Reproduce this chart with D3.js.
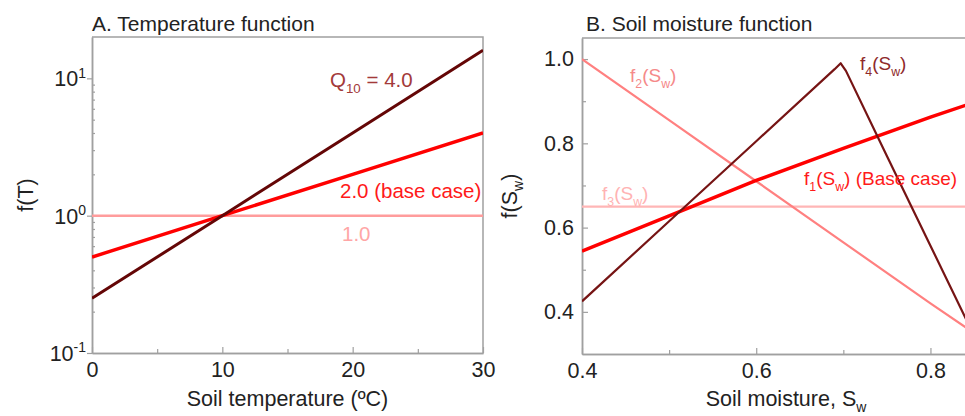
<!DOCTYPE html>
<html>
<head>
<meta charset="utf-8">
<script src="https://cdn.jsdelivr.net/npm/d3@7"></script>
<style>
  body { margin: 0; background: #fff; }
  text { font-family: "Liberation Sans", Arial, sans-serif; }
</style>
</head>
<body>
<svg id="chart"></svg>
<script>
// ---- data ----
// panel A: temperature function, f(T) for three Q10 values
var tempC = [0, 10, 20, 30];
var fT_q4 = [0.25, 1, 4, 16];
var fT_q2 = [0.5, 1, 2, 4];
var fT_q1 = [1, 1, 1, 1];
var tempTicks = [0, 10, 20, 30];
var tempMinor = [5, 15, 25];
var logMajor = [0.1, 1, 10];
var logExp = ["-1", "0", "1"];

// panel B: soil moisture functions
var sw = [0.4, 0.5, 0.6, 0.7, 0.8, 0.85];
var f1 = [0.544, 0.628, 0.712, 0.788, 0.862, 0.897];
var f2 = [1.0, 0.855, 0.71, 0.565, 0.42, 0.35];
var f3 = [0.65, 0.65, 0.65, 0.65, 0.65, 0.65];
var sw4 = [0.4, 0.5, 0.6, 0.69, 0.697, 0.703, 0.75, 0.8, 0.85];
var f4 = [0.425, 0.615, 0.805, 0.976, 0.99, 0.972, 0.77, 0.557, 0.344];
var swTicks = [0.4, 0.6, 0.8];
var swMinor = [0.5, 0.7];
var fTicks = [0.4, 0.6, 0.8, 1.0];
var fMinor = [0.5, 0.7, 0.9];

var W = 965, H = 416;
var axisGrey = "#a0a0a0";
var labelSize = 21.5;

var svg = d3.select("#chart").attr("width", W).attr("height", H);

// writes text with sub/superscript pieces
function rich(g, x, y, parts, size, color, anchor) {
  var t = g.append("text")
    .attr("x", x)
    .attr("y", y)
    .attr("font-size", size)
    .attr("fill", color)
    .attr("text-anchor", anchor || "start");
  var cur = 0;
  parts.forEach(function(p) {
    var target = 0, fs = size;
    if (p[1] == "sub") { target = size * 0.3; fs = size * 0.65; }
    if (p[1] == "sup") { target = -size * 0.4; fs = size * 0.65; }
    t.append("tspan")
      .attr("dy", target - cur)
      .attr("font-size", fs)
      .text(p[0]);
    cur = target;
  });
  return t;
}

function frame(x, y, name) {
  var x0 = x.range()[0], x1 = x.range()[1];
  var y0 = y.range()[0], y1 = y.range()[1];
  svg.append("clipPath").attr("id", name)
    .append("rect")
    .attr("x", x0).attr("y", y1)
    .attr("width", x1 - x0).attr("height", y0 - y1);
  svg.append("path")
    .attr("d", "M" + x0 + "," + y1 + "H" + x1 + "V" + y0)
    .attr("fill", "none")
    .attr("stroke", axisGrey)
    .attr("stroke-width", 1.5);
}

function styleAxis(g) {
  g.selectAll(".domain").attr("stroke", axisGrey).attr("stroke-width", 1.5);
  g.selectAll(".tick line").attr("stroke", axisGrey).attr("stroke-width", 1.2);
  g.selectAll(".tick text").attr("font-size", labelSize).attr("fill", "#222")
    .attr("font-family", "Liberation Sans, Arial, sans-serif");
}

function drawLine(xs, ys, x, y, clip, color, width) {
  var pts = xs.map(function(d, i) { return [d, ys[i]]; });
  svg.append("path")
    .datum(pts)
    .attr("clip-path", "url(#" + clip + ")")
    .attr("fill", "none")
    .attr("stroke", color)
    .attr("stroke-width", width)
    .attr("stroke-linejoin", "round")
    .attr("d", d3.line()
      .x(function(d) { return x(d[0]); })
      .y(function(d) { return y(d[1]); }));
}

// ================= panel A =================
var xA = d3.scaleLinear().domain([0, 30]).range([92, 483]);
var yA = d3.scaleLog().domain([0.1, 20]).range([353, 37]);

frame(xA, yA, "clipA");

var minorLog = [];
[0.1, 1, 10].forEach(function(dec) {
  for (var k = 2; k <= 9; k++) {
    if (dec * k < 20) minorLog.push(dec * k);
  }
});

svg.append("g")
  .attr("transform", "translate(0," + yA.range()[0] + ")")
  .call(d3.axisBottom(xA).tickValues(tempMinor).tickSizeInner(-4).tickSizeOuter(0).tickFormat(""))
  .call(styleAxis);
svg.append("g")
  .attr("transform", "translate(0," + yA.range()[0] + ")")
  .call(d3.axisBottom(xA).tickValues(tempTicks).tickSizeInner(-6).tickSizeOuter(0).tickPadding(9))
  .call(styleAxis);

svg.append("g")
  .attr("transform", "translate(" + xA.range()[0] + ",0)")
  .call(d3.axisLeft(yA).tickValues(minorLog).tickSizeInner(-3).tickSizeOuter(0).tickFormat(""))
  .call(styleAxis);
svg.append("g")
  .attr("transform", "translate(" + xA.range()[0] + ",0)")
  .call(d3.axisLeft(yA).tickValues(logMajor).tickSizeInner(5).tickSizeOuter(0).tickFormat(""))
  .call(styleAxis);

logMajor.forEach(function(v, i) {
  rich(svg, 86, yA(v) + 8, [["10", ""], [logExp[i], "sup"]], labelSize, "#222", "end");
});

drawLine(tempC, fT_q1, xA, yA, "clipA", "#ff9c9c", 2.5);
drawLine(tempC, fT_q2, xA, yA, "clipA", "#ff0000", 3.5);
drawLine(tempC, fT_q4, xA, yA, "clipA", "#640606", 3);

rich(svg, 92, 31, [["A. Temperature function", ""]], 21, "#222");
rich(svg, xA(15), 406, [["Soil temperature (ºC)", ""]], labelSize, "#222", "middle");
var gyA = svg.append("g").attr("transform", "translate(33,195) rotate(-90)");
rich(gyA, 0, 0, [["f(T)", ""]], labelSize, "#222", "middle");

rich(svg, 330, 87, [["Q", ""], ["10", "sub"], [" = 4.0", ""]], 20.5, "#a33a3a");
rich(svg, 340, 198, [["2.0 (base case)", ""]], 20.5, "#ff1a1a");
rich(svg, 342, 241, [["1.0", ""]], 20.5, "#ffa6a6");

// ================= panel B =================
var xB = d3.scaleLinear().domain([0.4, 0.85]).range([582, 974]);
var yB = d3.scaleLinear().domain([0.3, 1.05]).range([354, 38]);

frame(xB, yB, "clipB");

svg.append("g")
  .attr("transform", "translate(0," + yB.range()[0] + ")")
  .call(d3.axisBottom(xB).tickValues(swMinor).tickSizeInner(-4).tickSizeOuter(0).tickFormat(""))
  .call(styleAxis);
svg.append("g")
  .attr("transform", "translate(0," + yB.range()[0] + ")")
  .call(d3.axisBottom(xB).tickValues(swTicks).tickSizeInner(-6).tickSizeOuter(0)
    .tickPadding(9).tickFormat(d3.format(".1f")))
  .call(styleAxis);

svg.append("g")
  .attr("transform", "translate(" + xB.range()[0] + ",0)")
  .call(d3.axisLeft(yB).tickValues(fMinor).tickSizeInner(-4).tickSizeOuter(0).tickFormat(""))
  .call(styleAxis);
svg.append("g")
  .attr("transform", "translate(" + xB.range()[0] + ",0)")
  .call(d3.axisLeft(yB).tickValues(fTicks).tickSizeInner(-6).tickSizeOuter(0)
    .tickPadding(8).tickFormat(d3.format(".1f")))
  .call(styleAxis);

drawLine(sw, f3, xB, yB, "clipB", "#ffb6b6", 2.2);
drawLine(sw, f2, xB, yB, "clipB", "#ff8080", 2.2);
drawLine(sw, f1, xB, yB, "clipB", "#ff0000", 3.5);
drawLine(sw4, f4, xB, yB, "clipB", "#761414", 2.2);

rich(svg, 586, 31, [["B. Soil moisture function", ""]], 21, "#222");
rich(svg, 786, 406, [["Soil moisture, S", ""], ["w", "sub"]], labelSize, "#222", "middle");
var gyB = svg.append("g").attr("transform", "translate(517,196) rotate(-90)");
rich(gyB, 0, 0, [["f(S", ""], ["w", "sub"], [")", ""]], labelSize, "#222", "middle");

rich(svg, 630, 82, [["f", ""], ["2", "sub"], ["(S", ""], ["w", "sub"], [")", ""]], 19, "#f58a8a");
rich(svg, 860, 70, [["f", ""], ["4", "sub"], ["(S", ""], ["w", "sub"], [")", ""]], 19, "#8e2a2a");
rich(svg, 804, 185, [["f", ""], ["1", "sub"], ["(S", ""], ["w", "sub"], [") (Base case)", ""]], 19, "#ff1a1a");
rich(svg, 602, 200, [["f", ""], ["3", "sub"], ["(S", ""], ["w", "sub"], [")", ""]], 19, "#ffb3b3");
</script>
</body>
</html>
